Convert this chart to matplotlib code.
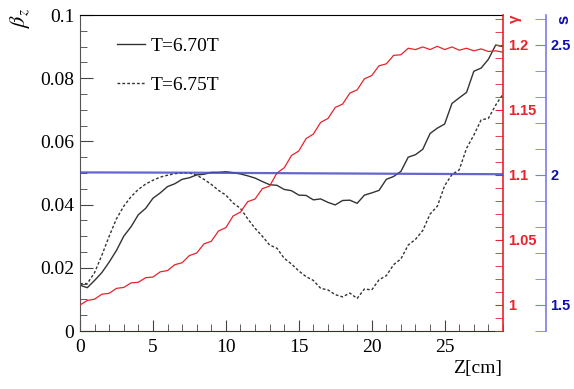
import matplotlib
matplotlib.use("Agg")
import matplotlib.pyplot as plt
from matplotlib.ticker import MultipleLocator

plt.rcParams['mathtext.fontset'] = 'stix'

# z positions [cm]
z = [0.0, 0.5, 1.0, 1.5, 2.0, 2.5, 3.0, 3.5, 4.0, 4.5, 5.0, 5.5, 6.0, 6.5, 7.0, 7.5,
     8.0, 8.5, 9.0, 9.5, 10.0, 10.5, 11.0, 11.5, 12.0, 12.5, 13.0, 13.5, 14.0, 14.5,
     15.0, 15.5, 16.0, 16.5, 17.0, 17.5, 18.0, 18.5, 19.0, 19.5, 20.0, 20.5, 21.0,
     21.5, 22.0, 22.5, 23.0, 23.5, 24.0, 24.5, 25.0, 25.5, 26.0, 26.5, 27.0, 27.5,
     28.0, 28.5, 29.0]

# beta_z, T=6.70T
beta_670 = [0.0145, 0.0137, 0.0160, 0.0185, 0.0218, 0.0255, 0.0300, 0.0330, 0.0368,
            0.0388, 0.0420, 0.0437, 0.0457, 0.0466, 0.0480, 0.0485, 0.0494, 0.0496,
            0.0502, 0.0502, 0.0504, 0.0501, 0.0497, 0.0491, 0.0484, 0.0473, 0.0463,
            0.0461, 0.0448, 0.0444, 0.0430, 0.0429, 0.0415, 0.0418, 0.0407, 0.0399,
            0.0413, 0.0414, 0.0404, 0.0430, 0.0437, 0.0445, 0.0480, 0.0489, 0.0505,
            0.0550, 0.0558, 0.0575, 0.0625, 0.0642, 0.0655, 0.0720, 0.0738, 0.0755,
            0.0822, 0.0832, 0.0860, 0.0905, 0.0900]

# beta_z, T=6.75T
beta_675 = [0.0150, 0.0150, 0.0185, 0.0240, 0.0300, 0.0355, 0.0395, 0.0425, 0.0448,
            0.0465, 0.0477, 0.0487, 0.0493, 0.0498, 0.0500, 0.0500, 0.0493, 0.0480,
            0.0464, 0.0445, 0.0430, 0.0405, 0.0388, 0.0355, 0.0325, 0.0300, 0.0272,
            0.0262, 0.0230, 0.0212, 0.0190, 0.0172, 0.0160, 0.0135, 0.0130, 0.0115,
            0.0108, 0.0120, 0.0103, 0.0133, 0.0130, 0.0162, 0.0175, 0.0210, 0.0228,
            0.0272, 0.0290, 0.0318, 0.0370, 0.0395, 0.0460, 0.0495, 0.0510, 0.0578,
            0.0620, 0.0668, 0.0673, 0.0715, 0.0750]

# gamma
gamma = [1.0000, 1.0035, 1.0045, 1.0083, 1.0090, 1.0128, 1.0135, 1.0170, 1.0175,
         1.0210, 1.0215, 1.0255, 1.0265, 1.0310, 1.0325, 1.0380, 1.0400, 1.0470,
         1.0490, 1.0570, 1.0595, 1.0685, 1.0715, 1.0795, 1.0815, 1.0895, 1.0915,
         1.1015, 1.1055, 1.1150, 1.1185, 1.1280, 1.1315, 1.1405, 1.1435, 1.1520,
         1.1545, 1.1630, 1.1655, 1.1740, 1.1765, 1.1840, 1.1855, 1.1920, 1.1925,
         1.1975, 1.1965, 1.1985, 1.1965, 1.1990, 1.1965, 1.1985, 1.1960, 1.1975,
         1.1955, 1.1970, 1.1950, 1.1955, 1.1945]

# s
z_s = [0, 7, 14, 21, 29]
s_vals = [2.010, 2.009, 2.007, 2.005, 2.003]

red = '#e8232b'
blue_ax = '#7b7bea'
blue_txt = '#1010b0'
serif = 'Liberation Serif'
sans = 'Liberation Sans'

fig = plt.figure(figsize=(5.74, 3.89), dpi=100)
ax = fig.add_axes([80/574, 1-331/389, 423/574, 316/389])

ax.plot(z, beta_670, color='#333333', lw=1.0, label='T=6.70T')
ax.plot(z, beta_675, color='#333333', lw=1.0, ls=(0, (2, 1.5)), label='T=6.75T')
ax.set_xlim(0, 29)
ax.set_ylim(0, 0.1)
ax.xaxis.set_major_locator(MultipleLocator(5))
ax.xaxis.set_minor_locator(MultipleLocator(1))
ax.yaxis.set_major_locator(MultipleLocator(0.02))
ax.yaxis.set_minor_locator(MultipleLocator(0.005))
ax.set_yticks([0, 0.02, 0.04, 0.06, 0.08, 0.1])
ax.set_yticklabels(['0', '0.02', '0.04', '0.06', '0.08', '0.1'])
ax.tick_params(axis='both', which='both', direction='in', top=False, right=False,
               colors='#444444', labelcolor='black')
ax.tick_params(axis='y', which='major', length=9, pad=4)
ax.tick_params(axis='y', which='minor', length=5)
ax.tick_params(axis='x', which='major', length=8, pad=6)
ax.tick_params(axis='x', which='minor', length=5)
for lab in ax.get_xticklabels() + ax.get_yticklabels():
    lab.set_fontfamily(serif)
    lab.set_fontsize(14)
ax.spines['left'].set_color('#555555')
ax.spines['bottom'].set_color('#5a2020')
ax.spines['top'].set_color('black')
ax.spines['right'].set_visible(False)

leg = ax.legend(loc='upper left', bbox_to_anchor=(0.046, 0.985), frameon=False,
                prop={'family': serif, 'size': 14}, handlelength=1.45,
                handletextpad=0.3, labelspacing=1.1)

# gamma axis
ax2 = ax.twinx()
ax2.plot(z, gamma, color=red, lw=0.9)
ax2.set_ylim(0.98, 1 + 0.2 + 30/1300)
ax2.yaxis.set_major_locator(MultipleLocator(0.05))
ax2.yaxis.set_minor_locator(MultipleLocator(0.01))
ax2.set_yticks([1, 1.05, 1.1, 1.15, 1.2])
ax2.set_yticklabels(['1', '1.05', '1.1', '1.15', '1.2'])
ax2.tick_params(axis='y', which='both', direction='in', colors=red, length=6, pad=4)
for lab in ax2.get_yticklabels():
    lab.set_fontfamily(sans)
    lab.set_fontweight('bold')
    lab.set_fontsize(10.5)
for sp in ['top', 'left', 'bottom']:
    ax2.spines[sp].set_visible(False)
ax2.spines['right'].set_color(red)
ax2.spines['right'].set_linewidth(1.2)

# s axis
ax3 = ax.twinx()
ax3.plot(z_s, s_vals, color='#4a4ac8', lw=1.6, alpha=0.85)
ax3.set_ylim(1.5 - 26/260, 2.5 + 30/260)
ax3.spines['right'].set_position(('axes', (546 - 80) / 423))
ax3.set_yticks([1.5, 2, 2.5])
ax3.set_yticklabels(['1.5', '2', '2.5'])
ax3.yaxis.set_minor_locator(MultipleLocator(0.1))
ax3.tick_params(axis='y', which='both', direction='in', colors=blue_ax,
                labelcolor=blue_txt, length=8, pad=3)
for lab in ax3.get_yticklabels():
    lab.set_fontfamily(sans)
    lab.set_fontweight('bold')
    lab.set_fontsize(10.5)
for sp in ['top', 'left', 'bottom']:
    ax3.spines[sp].set_visible(False)
ax3.spines['right'].set_color(blue_ax)
ax3.spines['right'].set_linewidth(1.2)

# axis titles
fig.text(20/574, 1 - 8/389, r'$\beta_z$', rotation=90, ha='center', va='top', fontsize=16)
fig.text(502/574, 1 - 368/389, 'Z[cm]', ha='right', va='center', family=serif, fontsize=14)
fig.text(515/574, 1 - 19/389, 'γ', color=red, rotation=90, ha='center', va='center',
         family=sans, fontweight='bold', fontsize=11)
fig.text(564/574, 1 - 19/389, 's', color=blue_txt, rotation=90, ha='center', va='center',
         family=sans, fontweight='bold', fontsize=12)

fig.savefig('out.png', dpi=100)
